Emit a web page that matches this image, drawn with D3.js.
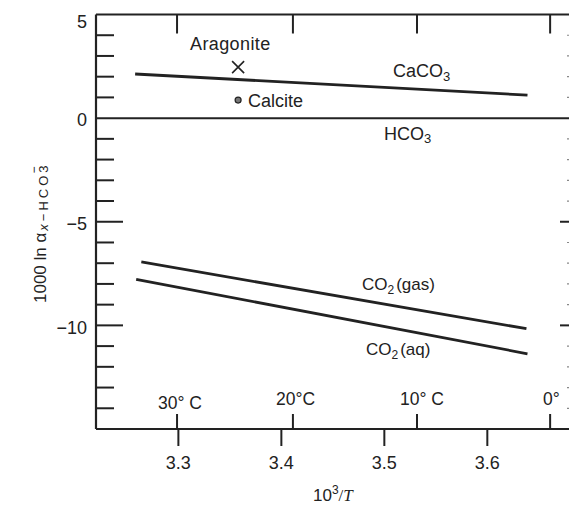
<!DOCTYPE html>
<html><head><meta charset="utf-8">
<script src="https://cdn.jsdelivr.net/npm/d3@7"></script>
<style>
body{margin:0;background:#fff;}
text{font-family:"Liberation Sans",Arial,sans-serif;fill:#222;}
</style></head>
<body><svg id="c" width="569" height="506"></svg>
<script>
// ---- data ----
const yTicksMajor = [5, 0, -5, -10];
const yTickLabels = ["5", "0", "\u22125", "\u221210"];
const yTicksMinor = [4,3,2,1,-1,-2,-3,-4,-6,-7,-8,-9,-11,-12,-13,-14];
const xTicks = [3.3, 3.4, 3.5, 3.6];
const xTickLabels = ["3.3", "3.4", "3.5", "3.6"];
const tempTicks = [30, 20, 10, 0];
const tempLabels = ["30\u00b0 C", "20\u00b0C", "10\u00b0 C", "0\u00b0"];
const caco3X = [3.258, 3.639];
const caco3Y = [2.13, 1.11];
const co2gasX = [3.264, 3.638];
const co2gasY = [-6.94, -10.16];
const co2aqX = [3.259, 3.639];
const co2aqY = [-7.78, -11.37];
const hco3X = [3.22, 3.69];
const hco3Y = [0, 0];
const aragonite = [3.358, 2.46];
const calcite = [3.358, 0.87];

// ---- scales ----
const svg = d3.select("#c");
const x = d3.scaleLinear().domain([3.22, 3.69]).range([96, 580]);
const y = d3.scaleLinear().domain([-15, 5]).range([429, 14.5]);
const ink = "#222";
const line = d3.line().x(d => x(d[0])).y(d => y(d[1]));

// frame: left, top, bottom
svg.append("path").attr("d", line([[3.22, 5],[3.22,-15]])).attr("stroke", ink).attr("stroke-width", 2.2).attr("fill","none");
svg.append("path").attr("d", line([[3.22, 5],[3.69,5]])).attr("stroke", ink).attr("stroke-width", 2).attr("fill","none");
svg.append("path").attr("d", line([[3.22, -15],[3.69,-15]])).attr("stroke", ink).attr("stroke-width", 2.2).attr("fill","none");

// left ticks (inward)
const gl = svg.append("g").attr("stroke", ink).attr("stroke-width", 2);
yTicksMinor.forEach(v => gl.append("line").attr("x1", x(3.22)).attr("x2", x(3.22)+18).attr("y1", y(v)).attr("y2", y(v)));
[-5,-10].forEach(v => gl.append("line").attr("x1", x(3.22)).attr("x2", x(3.22)+27).attr("y1", y(v)).attr("y2", y(v)));
// right ticks (inward, axis beyond the frame)
yTicksMinor.forEach(v => gl.append("line").attr("x1", x(3.69)).attr("x2", x(3.69)-13).attr("y1", y(v)).attr("y2", y(v)).attr("stroke-width",1.2).attr("stroke","#888"));
[-5,-10].forEach(v => gl.append("line").attr("x1", x(3.69)).attr("x2", x(3.69)-20).attr("y1", y(v)).attr("y2", y(v)));

// y labels
yTicksMajor.forEach((v,i) => svg.append("text").attr("x", 87).attr("y", y(v) + (v===5?7:2)).attr("dy","0.35em")
  .attr("text-anchor","end").attr("font-size", 18).text(yTickLabels[i]));

// bottom x ticks (downward)
xTicks.forEach((v,i) => {
  svg.append("line").attr("x1", x(v)).attr("x2", x(v)).attr("y1", y(-15)).attr("y2", y(-15)+17).attr("stroke", ink).attr("stroke-width", 2);
  svg.append("text").attr("x", x(v)).attr("y", 469).attr("text-anchor","middle").attr("font-size", 18).text(xTickLabels[i]);
});
// temperature ticks (upward at bottom, downward at top)
tempTicks.forEach((t,i) => {
  const xv = 1000/(t+273.15);
  svg.append("line").attr("x1", x(xv)).attr("x2", x(xv)).attr("y1", y(-15)).attr("y2", y(-15)-15).attr("stroke", ink).attr("stroke-width", 2);
  svg.append("line").attr("x1", x(xv)).attr("x2", x(xv)).attr("y1", y(5)).attr("y2", y(5)+19).attr("stroke", ink).attr("stroke-width", 2);
});
const tempLabelX = [158, 276, 400, 543];
tempTicks.forEach((t,i) => svg.append("text").attr("x", tempLabelX[i]).attr("y", i===0?409:405).attr("font-size", 17.5).text(tempLabels[i]));

// data lines
const series = [[caco3X, caco3Y],[co2gasX, co2gasY],[co2aqX, co2aqY],[hco3X, hco3Y]];
series.forEach((s, k) => svg.append("path").attr("d", line(s[0].map((v,i)=>[v, s[1][i]])))
  .attr("stroke", ink).attr("stroke-width", k===3?2:2.8).attr("fill","none"));

// aragonite cross
const ax = x(aragonite[0]), ay = y(aragonite[1]);
svg.append("path").attr("d", `M${ax-6},${ay-6}L${ax+6},${ay+6}M${ax-6},${ay+6}L${ax+6},${ay-6}`).attr("stroke", ink).attr("stroke-width", 1.6);
// calcite dot
svg.append("circle").attr("cx", x(calcite[0])).attr("cy", y(calcite[1])).attr("r", 3).attr("fill", "#777").attr("stroke", ink).attr("stroke-width", 1.2);

// labels
svg.append("text").attr("x", 190).attr("y", 50).attr("font-size", 18).attr("letter-spacing", 0.4).text("Aragonite");
svg.append("text").attr("x", 248).attr("y", 107).attr("font-size", 18).text("Calcite");
const t1 = svg.append("text").attr("x", 393).attr("y", 77).attr("font-size", 18);
t1.append("tspan").text("CaCO");
t1.append("tspan").attr("font-size", 13).attr("dy", 4).text("3");
const t2 = svg.append("text").attr("x", 384).attr("y", 140).attr("font-size", 18);
t2.append("tspan").text("HCO");
t2.append("tspan").attr("font-size", 13).attr("dy", 3).text("3");
const t3 = svg.append("text").attr("x", 362).attr("y", 290).attr("font-size", 17);
t3.append("tspan").text("CO");
t3.append("tspan").attr("font-size", 12).attr("dy", 4).text("2");
t3.append("tspan").attr("dy", -4).attr("dx", 2).text("(gas)");
const t4 = svg.append("text").attr("x", 366).attr("y", 355).attr("font-size", 17);
t4.append("tspan").text("CO");
t4.append("tspan").attr("font-size", 12).attr("dy", 4).text("2");
t4.append("tspan").attr("dy", -4).attr("dx", 2).text("(aq)");

// x axis title
const xt = svg.append("text").attr("x", 313).attr("y", 501).attr("font-size", 17);
xt.append("tspan").text("10");
xt.append("tspan").attr("font-size", 12).attr("dy", -7).text("3");
xt.append("tspan").attr("dy", 7).attr("font-family", "Liberation Serif, serif").text("/");
xt.append("tspan").attr("font-family", "Liberation Serif, serif").attr("font-style","italic").text("T");

// y axis title
const yt = svg.append("text").attr("transform", "translate(46,303) rotate(-90)").attr("font-size", 17);
yt.append("tspan").text("1000 ln \u03b1");
yt.append("tspan").attr("font-size", 13).attr("dy", 2).attr("dx", 2).attr("letter-spacing", 3).attr("font-style","italic").text("x");
yt.append("tspan").attr("font-size", 13).attr("letter-spacing", 3).text("\u2212HCO");
yt.append("tspan").attr("font-size", 13).text("3");
yt.append("tspan").attr("font-size", 12).attr("dx", -8).attr("dy", -10).text("\u2212");
</script></body></html>
